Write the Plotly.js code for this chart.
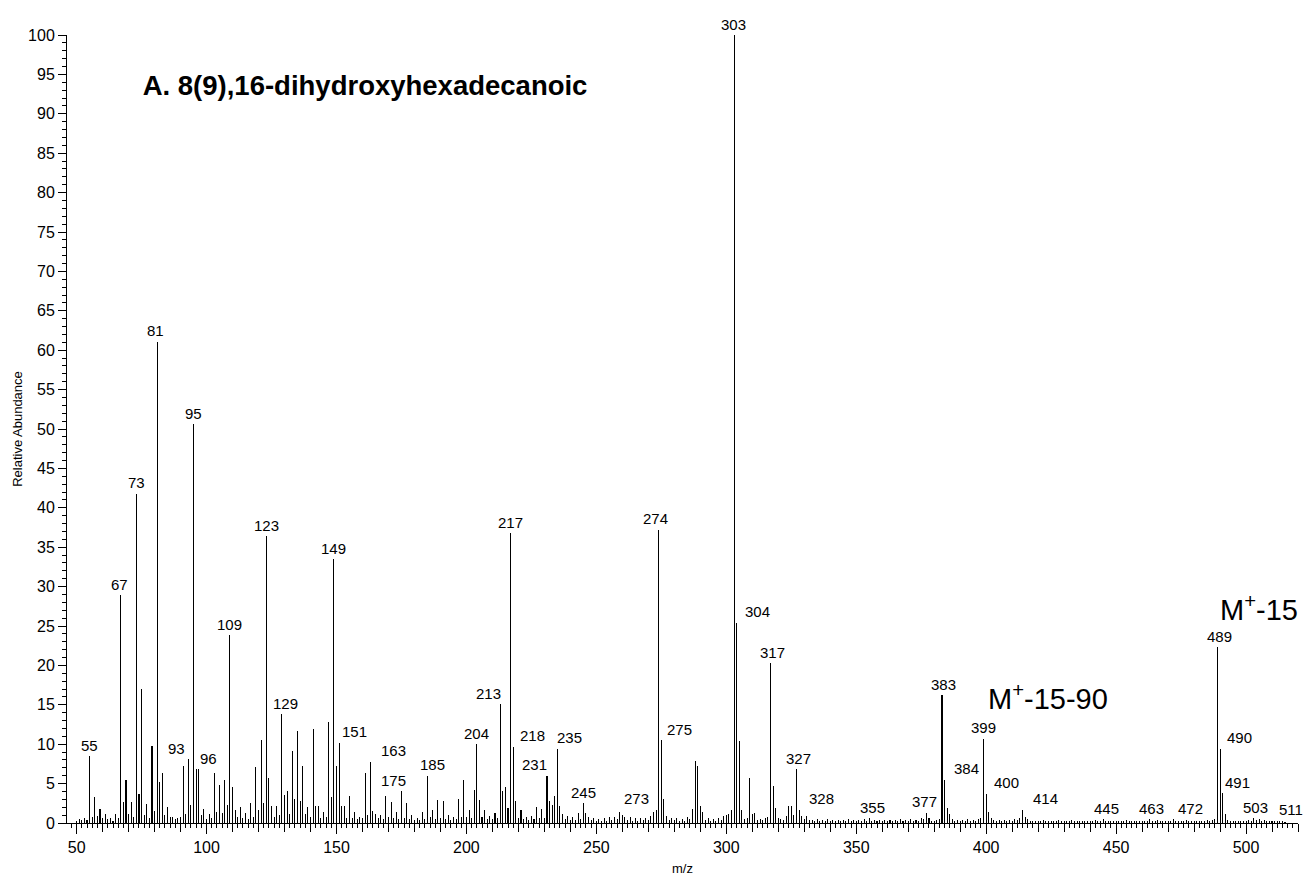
<!DOCTYPE html>
<html>
<head>
<meta charset="utf-8">
<script src="https://cdn.plot.ly/plotly-3.0.1.min.js"></script>
<style>html,body{margin:0;padding:0;background:#fff;}#chart{width:1309px;height:880px;}</style>
</head>
<body>
<div id="chart"></div>
<script>
// m/z values (integer masses)
const mz = [
 50,51,52,53,54,55,56,57,58,59,
 60,61,62,63,64,65,66,67,68,69,
 70,71,72,73,74,75,76,77,78,79,
 80,81,82,83,84,85,86,87,88,89,
 90,91,92,93,94,95,96,97,98,99,
 100,101,102,103,104,105,106,107,108,109,
 110,111,112,113,114,115,116,117,118,119,
 120,121,122,123,124,125,126,127,128,129,
 130,131,132,133,134,135,136,137,138,139,
 140,141,142,143,144,145,146,147,148,149,
 150,151,152,153,154,155,156,157,158,159,
 160,161,162,163,164,165,166,167,168,169,
 170,171,172,173,174,175,176,177,178,179,
 180,181,182,183,184,185,186,187,188,189,
 190,191,192,193,194,195,196,197,198,199,
 200,201,202,203,204,205,206,207,208,209,
 210,211,212,213,214,215,216,217,218,219,
 220,221,222,223,224,225,226,227,228,229,
 230,231,232,233,234,235,236,237,238,239,
 240,241,242,243,244,245,246,247,248,249,
 250,251,252,253,254,255,256,257,258,259,
 260,261,262,263,264,265,266,267,268,269,
 270,271,272,273,274,275,276,277,278,279,
 280,281,282,283,284,285,286,287,288,289,
 290,291,292,293,294,295,296,297,298,299,
 300,301,302,303,304,305,306,307,308,309,
 310,311,312,313,314,315,316,317,318,319,
 320,321,322,323,324,325,326,327,328,329,
 330,331,332,333,334,335,336,337,338,339,
 340,341,342,343,344,345,346,347,348,349,
 350,351,352,353,354,355,356,357,358,359,
 360,361,362,363,364,365,366,367,368,369,
 370,371,372,373,374,375,376,377,378,379,
 380,381,382,383,384,385,386,387,388,389,
 390,391,392,393,394,395,396,397,398,399,
 400,401,402,403,404,405,406,407,408,409,
 410,411,412,413,414,415,416,417,418,419,
 420,421,422,423,424,425,426,427,428,429,
 430,431,432,433,434,435,436,437,438,439,
 440,441,442,443,444,445,446,447,448,449,
 450,451,452,453,454,455,456,457,458,459,
 460,461,462,463,464,465,466,467,468,469,
 470,471,472,473,474,475,476,477,478,479,
 480,481,482,483,484,485,486,487,488,489,
 490,491,492,493,494,495,496,497,498,499,
 500,501,502,503,504,505,506,507,508,509,
 510,511,512,513,514,515
];
// relative abundance (%)
const abundance = [
 0.3,0.5,0.4,0.6,0.4,8.5,0.8,3.3,0.9,1.8,
 0.6,1.1,0.5,0.6,0.3,1.2,0.6,28.9,2.7,5.5,
 1.2,2.7,0.8,41.8,3.7,17.0,1.0,2.4,0.6,9.8,
 1.5,61.1,5.2,6.3,1.0,2.0,0.7,0.7,0.5,0.6,
 0.7,7.2,1.2,8.1,2.3,50.6,6.8,6.8,1.0,1.8,
 0.5,1.2,0.6,6.3,1.4,4.8,1.3,5.4,2.3,23.8,
 4.6,1.7,0.7,2.0,0.6,1.3,0.5,2.5,0.8,7.1,
 1.7,10.5,2.5,36.4,5.7,2.2,0.8,2.1,1.0,13.8,
 3.6,4.0,1.2,9.1,3.1,11.7,2.8,7.2,1.2,2.0,
 0.8,11.9,2.1,2.1,0.6,1.4,0.7,12.8,3.3,33.5,
 7.2,10.2,2.1,2.1,0.6,3.4,0.6,1.4,0.5,0.8,
 0.6,6.3,1.0,7.8,1.5,1.2,0.6,1.0,0.5,3.4,
 0.8,2.7,0.6,1.4,0.5,4.0,0.6,2.5,0.5,1.0,
 0.4,0.6,0.4,1.4,0.5,6.0,0.8,1.7,0.5,2.9,
 0.6,2.8,0.5,1.0,0.4,0.8,0.5,3.1,0.8,5.5,
 0.8,1.6,0.6,4.2,10.0,2.9,0.7,1.7,0.5,0.9,
 0.5,1.3,0.6,15.1,4.1,4.6,1.9,36.8,9.7,2.8,
 0.6,1.6,0.5,0.8,0.4,0.9,0.5,2.0,0.6,1.8,
 0.6,6.0,2.8,2.3,3.4,9.4,2.1,1.2,0.5,0.9,
 0.4,0.8,0.4,1.3,0.5,2.5,1.3,0.8,0.4,0.6,
 0.3,0.5,0.3,0.6,0.3,0.7,0.4,0.8,0.5,1.4,
 1.0,0.8,0.4,0.7,0.3,0.6,0.3,0.6,0.4,0.6,
 0.4,0.9,1.4,1.7,37.2,10.5,3.1,0.9,0.4,0.6,
 0.4,0.6,0.3,0.5,0.3,0.7,0.5,1.8,7.9,7.2,
 2.2,1.4,0.4,0.6,0.3,0.5,0.3,0.6,0.4,0.9,
 1.0,1.2,1.7,100,25.4,10.4,1.7,0.5,0.6,5.7,
 1.1,1.3,0.4,0.5,0.4,0.6,0.7,20.3,4.7,1.9,
 0.6,0.5,0.4,0.9,2.1,2.1,1.0,6.8,1.7,0.9,
 0.5,0.9,0.4,0.4,0.3,0.5,0.3,0.4,0.3,0.5,
 0.3,0.4,0.3,0.4,0.2,0.4,0.3,0.5,0.3,0.4,
 0.3,0.4,0.3,0.5,0.3,0.6,0.3,0.4,0.3,0.4,
 0.3,0.4,0.2,0.4,0.3,0.4,0.3,0.5,0.3,0.4,
 0.3,0.5,0.3,0.4,0.3,0.6,0.5,1.3,0.6,0.3,
 0.3,0.4,0.5,16.2,5.5,1.9,1.2,0.5,0.3,0.4,
 0.3,0.4,0.3,0.5,0.3,0.4,0.3,0.5,0.6,10.7,
 3.7,1.4,0.6,0.4,0.3,0.4,0.3,0.4,0.3,0.4,
 0.3,0.5,0.4,0.6,1.7,0.8,0.5,0.3,0.3,0.2,
 0.3,0.2,0.4,0.2,0.3,0.3,0.2,0.3,0.4,0.2,
 0.3,0.2,0.3,0.4,0.2,0.3,0.2,0.3,0.3,0.2,
 0.3,0.2,0.4,0.3,0.3,0.5,0.3,0.2,0.3,0.2,
 0.3,0.3,0.2,0.2,0.4,0.2,0.3,0.2,0.3,0.2,
 0.3,0.2,0.3,0.5,0.3,0.2,0.4,0.2,0.3,0.3,
 0.3,0.3,0.5,0.3,0.2,0.3,0.2,0.4,0.2,0.3,
 0.2,0.3,0.2,0.3,0.3,0.4,0.3,0.4,0.5,22.3,
 9.4,3.8,1.2,0.4,0.3,0.2,0.3,0.2,0.3,0.2,
 0.3,0.4,0.3,0.6,0.4,0.5,0.3,0.4,0.2,0.3,
 0.2,0.3,0.2,0.2,0.2,0.1
];
// peaks that carry an m/z label
const labelMz = [55,67,73,81,93,95,96,109,123,129,149,151,163,175,185,204,213,217,218,231,235,245,273,274,275,303,304,317,327,328,355,377,383,384,399,400,414,445,463,472,489,490,491,503,511];
// horizontal label offsets in px (layout only)
const labelDx = [0,-1,0,-2,-12,0,12,0,0,4,0,15,23,-8,5,0,-12,0,19,-12,12,0,-20,-3,18,-1,21,2,2,22,3,-2,2,22,0,20,23,3,2,17,2,19,15,2,16];

const FONT = 'Liberation Sans, Arial, sans-serif';

const annotations = labelMz.map((m, i) => {
  const idx = mz.indexOf(m);
  return {
    x: m, y: abundance[idx], xref: 'x', yref: 'y',
    text: String(m), showarrow: false,
    xanchor: 'center', yanchor: 'middle',
    xshift: labelDx[i], yshift: 11,
    font: {family: FONT, size: 15, color: '#000'}
  };
});
annotations.push({
  xref: 'paper', yref: 'paper', x: 0.968, y: 0.273,
  text: 'M<sup>+</sup>-15', showarrow: false, xanchor: 'center', yanchor: 'middle',
  font: {family: FONT, size: 29, color: '#000'}
});
annotations.push({
  xref: 'paper', yref: 'paper', x: 0.797, y: 0.160,
  text: 'M<sup>+</sup>-15-90', showarrow: false, xanchor: 'center', yanchor: 'middle',
  font: {family: FONT, size: 29, color: '#000'}
});

const XR = [46.3, 520];

const traces = [
  {
    type: 'bar', x: mz, y: abundance, width: 0.4,
    marker: {color: '#000', line: {width: 0}},
    hoverinfo: 'x+y', showlegend: false
  },
  {
    type: 'scatter', x: [], y: [], xaxis: 'x2', yaxis: 'y', showlegend: false, hoverinfo: 'skip'
  }
];

const layout = {
  width: 1309, height: 880,
  margin: {l: 67, r: 11, t: 35, b: 57},
  paper_bgcolor: '#fff', plot_bgcolor: '#fff',
  font: {family: FONT, color: '#000'},
  showlegend: false,
  bargap: 0,
  title: {
    text: '<b>A. 8(9),16-dihydroxyhexadecanoic</b>',
    xref: 'container', yref: 'container',
    x: 0.109, xanchor: 'left', y: 0.903, yanchor: 'middle',
    font: {family: FONT, size: 27.5, color: '#000'}
  },
  xaxis: {
    range: XR, showgrid: false, zeroline: false,
    showline: true, linecolor: '#000', linewidth: 1,
    tickmode: 'linear', tick0: 50, dtick: 10,
    ticks: 'outside', ticklen: 8, tickwidth: 1, tickcolor: '#000',
    showticklabels: false,
    minor: {tickmode: 'linear', tick0: 50, dtick: 2, ticks: 'outside', ticklen: 4, tickwidth: 1, tickcolor: '#000', showgrid: false},
    title: {text: 'm/z', font: {family: FONT, size: 13, color: '#000'}, standoff: 32},
    automargin: false, fixedrange: true
  },
  xaxis2: {
    overlaying: 'x', anchor: 'y', side: 'bottom',
    range: XR, showgrid: false, zeroline: false, showline: false,
    tickmode: 'linear', tick0: 50, dtick: 50,
    ticks: 'outside', ticklen: 10, tickwidth: 1, tickcolor: '#000',
    showticklabels: true, tickfont: {family: FONT, size: 16, color: '#000'},
    automargin: false, fixedrange: true
  },
  yaxis: {
    range: [0, 100], showgrid: false, zeroline: false,
    showline: true, linecolor: '#000', linewidth: 1,
    tickmode: 'linear', tick0: 0, dtick: 5,
    ticks: 'outside', ticklen: 8, tickwidth: 1, tickcolor: '#000',
    tickfont: {family: FONT, size: 16, color: '#000'},
    minor: {tickmode: 'linear', tick0: 0, dtick: 1, ticks: 'outside', ticklen: 4, tickwidth: 1, tickcolor: '#000', showgrid: false},
    title: {text: 'Relative Abundance', font: {family: FONT, size: 13, color: '#000'}, standoff: 2},
    automargin: false, fixedrange: true
  },
  annotations: annotations
};

Plotly.newPlot('chart', traces, layout, {displayModeBar: false, staticPlot: true});
</script>
</body>
</html>
